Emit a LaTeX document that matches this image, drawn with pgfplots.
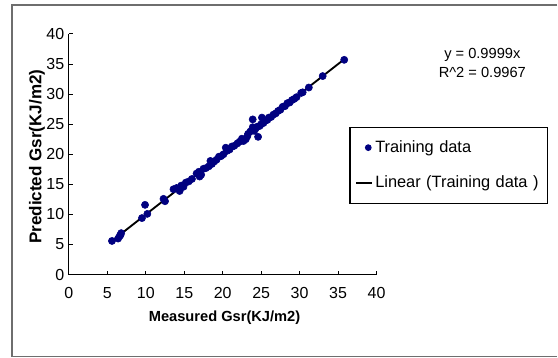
\documentclass[border=0pt]{standalone}
\usepackage{fontspec}
\setmainfont{Liberation Sans}
\usepackage{pgfplots}
\pgfplotsset{compat=1.18}
\definecolor{navy}{RGB}{0,0,128}
\definecolor{framegray}{RGB}{110,110,110}
\pgfplotstableread{
x y
5.6 5.6
6.4 6.0
6.6 6.4
6.8 6.9
6.7 6.6
9.5 9.4
9.9 11.6
10.2 10.1
12.3 12.6
12.5 12.2
13.6 14.2
14.0 14.4
14.4 13.9
14.6 14.8
14.9 14.6
15.2 15.3
15.6 15.5
16.0 15.9
16.6 16.8
16.9 17.1
17.0 16.3
17.2 16.6
17.5 17.6
17.8 17.7
18.2 18.0
18.4 18.9
18.6 18.4
18.9 18.8
19.2 19.1
19.5 19.6
19.8 19.7
20.1 20.0
20.4 21.1
20.6 20.6
20.9 20.8
21.2 21.3
21.5 21.4
21.9 21.8
22.2 22.1
22.5 22.6
22.7 22.2
23.0 22.5
23.2 23.0
23.3 23.4
23.6 23.8
23.9 24.5
23.9 25.8
24.1 23.9
24.3 24.3
24.5 24.6
24.6 22.9
24.8 24.7
25.1 26.1
25.0 25.0
25.3 25.2
25.5 25.6
25.8 25.7
26.0 26.1
26.3 26.2
26.6 26.6
26.9 26.8
27.2 27.2
27.5 27.4
27.8 27.9
28.1 28.0
28.4 28.5
28.7 28.6
29.0 29.0
29.3 29.2
29.6 29.5
30.2 30.2
30.4 30.3
31.2 31.1
33.0 33.0
35.8 35.7
}\training
\begin{document}
\begin{tikzpicture}
\path (0,0) rectangle (418.5pt,268.5pt);
\draw[framegray, line width=1.1pt] (418.5pt,264.75pt) -- (9pt,264.75pt) -- (9pt,0.6pt) -- (418.5pt,0.6pt);
\begin{axis}[
  at={(51.75pt,62.25pt)}, anchor=south west,
  scale only axis, width=231pt, height=180.75pt,
  xmin=0, xmax=40, ymin=0, ymax=40,
  xtick={0,5,...,40}, ytick={0,5,...,40},
  axis x line*=bottom, axis y line*=left,
  axis line style={black, line width=0.8pt},
  tick align=inside, major tick length=3pt,
  tick style={black, line width=0.7pt},
  /pgf/number format/assume math mode=true,
  tick label style={font=\fontsize{12}{14}\selectfont},
  xticklabel style={yshift=-6pt},
  xlabel={\textbf{Measured Gsr(KJ/m2)}},
  ylabel={\textbf{Predicted Gsr(KJ/m2)}},
  xlabel style={font=\fontsize{11}{13}\selectfont, at={(axis description cs:0.506,-0.178)}, anchor=center},
  ylabel style={font=\fontsize{12.8}{14}\selectfont, at={(axis description cs:-0.104,0.49)}, anchor=center, rotate=0},
  clip=false,
  legend style={at={(axis description cs:0.912,0.614)}, anchor=north west,
    draw=black, line width=0.8pt, font=\fontsize{12.3}{14}\selectfont,
    inner xsep=4pt, inner ysep=8pt, row sep=12pt, text width=123pt,
    cells={anchor=west}},
  legend cell align=left,
]
\addplot[only marks, mark=*, mark size=2.7pt, mark options={fill=navy, draw=navy},
  legend image code/.code={\fill[navy] (9pt,0) circle (2.1pt);}]
  table[x=x,y=y] {\training};
\addlegendentry{Training data}
\addplot[black, line width=1.4pt, no marks,
  legend image code/.code={\draw[black, line width=1.5pt] (0pt,0) -- (11.5pt,0);}]
  coordinates {(5.6,5.5994) (35.8,35.796)};
\addlegendentry{Linear (Training data )}
\node[align=center, font=\fontsize{11}{14}\selectfont, inner sep=0pt]
  at (axis description cs:1.344,0.88) {y = 0.9999x\\R\textasciicircum 2 = 0.9967};
\end{axis}
\end{tikzpicture}
\end{document}
